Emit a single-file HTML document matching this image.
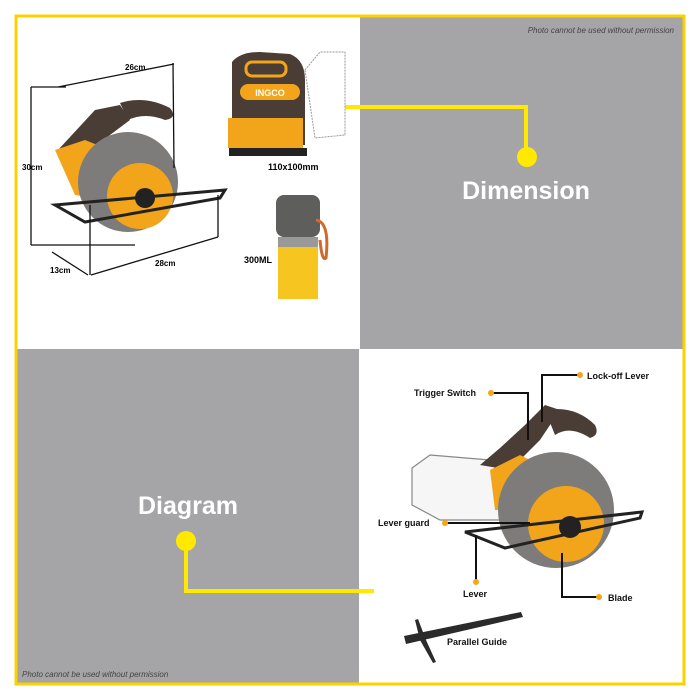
<!DOCTYPE html>
<html><head><meta charset="utf-8"><style>
html,body{margin:0;padding:0;background:#fff}
svg{display:block}
text{font-family:"Liberation Sans",sans-serif}
</style></head><body>
<svg width="700" height="700" viewBox="0 0 700 700" xmlns="http://www.w3.org/2000/svg">
<rect width="700" height="700" fill="#fff"/>
<rect x="360" y="17" width="323" height="332" fill="#a5a4a6"/>
<rect x="17" y="349" width="342" height="334" fill="#a5a4a6"/>
<rect x="16" y="16" width="668" height="668" fill="none" stroke="#fdd000" stroke-width="3"/>
<text x="674" y="33" font-size="8" font-style="italic" fill="#444" text-anchor="end">Photo cannot be used without permission</text>
<text x="22" y="677" font-size="8" font-style="italic" fill="#444">Photo cannot be used without permission</text>

<polyline points="345,107 526,107 526,157" fill="none" stroke="#ffe900" stroke-width="4"/>
<circle cx="527" cy="157" r="10" fill="#ffe900"/>
<text x="526" y="199" font-size="25" font-weight="bold" fill="#fff" text-anchor="middle">Dimension</text>
<polyline points="186,541 186,591 374,591" fill="none" stroke="#ffe900" stroke-width="4"/>
<circle cx="186" cy="541" r="10" fill="#ffe900"/>
<text x="188" y="514" font-size="25" font-weight="bold" fill="#fff" text-anchor="middle">Diagram</text>

<g>
<path d="M58,150 L95,110 L120,105 L130,120 L110,135 L80,160 Z" fill="#4a3d36"/>
<path d="M120,103 Q145,95 170,108 Q178,118 165,120 Q145,112 128,120 Z" fill="#4a3d36"/>
<path d="M55,150 L85,140 L110,150 L105,200 L75,195 Z" fill="#f2a51a"/>
<circle cx="128" cy="182" r="50" fill="#7d7c7b"/>
<circle cx="140" cy="196" r="33" fill="#f2a51a"/>
<circle cx="145" cy="198" r="10" fill="#222"/>
<path d="M55,205 L225,190 L220,198 L85,222 Z" fill="none" stroke="#222" stroke-width="3"/>
<text x="125" y="70" font-size="8" font-weight="bold">26cm</text>
<text x="22" y="170" font-size="8" font-weight="bold">30cm</text>
<text x="50" y="273" font-size="8" font-weight="bold">13cm</text>
<text x="155" y="266" font-size="8" font-weight="bold">28cm</text>
<path d="M58,87 L174,64 M173,63 L174,168 M31,87 L31,245 M31,87 L66,87 M31,245 L135,245 M52,252 L88,275 M91,275 L218,237 M218,237 L218,195 M90,205 L90,275" stroke="#111" stroke-width="1.3" fill="none"/>
</g>

<g>
<path d="M232,62 Q240,52 260,52 L290,54 Q305,60 305,80 L305,145 L232,145 Z" fill="#4a3d36"/>
<rect x="246" y="62" width="40" height="14" rx="6" fill="none" stroke="#f2a51a" stroke-width="3"/>
<rect x="240" y="84" width="60" height="16" rx="8" fill="#f2a51a"/>
<text x="270" y="96" font-size="9" font-weight="bold" fill="#fff" text-anchor="middle">INGCO</text>
<rect x="228" y="118" width="75" height="30" fill="#f2a51a"/>
<rect x="229" y="148" width="78" height="8" fill="#222"/>
<path d="M305,70 L320,52 L345,52 L345,135 L315,138 Z" fill="none" stroke="#999" stroke-width="1" stroke-dasharray="2,1"/>
<text x="268" y="170" font-size="9" font-weight="bold">110x100mm</text>
</g>

<g>
<rect x="276" y="195" width="44" height="42" rx="8" fill="#5e5e5c"/>
<rect x="278" y="237" width="40" height="10" fill="#999"/>
<rect x="278" y="247" width="40" height="52" fill="#f6c520"/>
<path d="M316,220 Q330,222 326,258 Q322,262 320,240" fill="none" stroke="#d06a2c" stroke-width="3"/>
<text x="244" y="263" font-size="9" font-weight="bold">300ML</text>
</g>

<g>
<path d="M412,468 L430,455 L490,460 L510,480 L500,520 L440,520 L412,505 Z" fill="#f6f6f6" stroke="#888" stroke-width="1.2"/>
<path d="M480,465 L500,448 L525,425 L545,405 L560,410 L540,440 L510,470 Z" fill="#4a3d36"/>
<path d="M545,410 Q575,405 595,425 Q600,435 590,438 Q570,425 555,435 Z" fill="#4a3d36"/>
<path d="M490,470 L520,455 L540,465 L530,510 L495,510 Z" fill="#f2a51a"/>
<circle cx="556" cy="510" r="58" fill="#7d7c7b"/>
<circle cx="566" cy="524" r="38" fill="#f2a51a"/>
<circle cx="570" cy="527" r="11" fill="#222"/>
<path d="M465,532 L642,512 L640,518 L505,548 Z" fill="none" stroke="#222" stroke-width="3"/>
</g>

<g stroke="#111" stroke-width="2" fill="none">
<polyline points="579,375 542,375 542,422"/>
<polyline points="491,393 528,393 528,440"/>
<polyline points="445,523 530,523"/>
<polyline points="476,581 476,535"/>
<polyline points="598,597 562,597 562,553"/>
</g>
<g fill="#f7a416">
<circle cx="580" cy="375" r="3"/><circle cx="491" cy="393" r="3"/><circle cx="445" cy="523" r="3"/><circle cx="476" cy="582" r="3"/><circle cx="599" cy="597" r="3"/>
</g>
<g font-size="9" font-weight="bold" fill="#111">
<text x="587" y="379">Lock-off Lever</text>
<text x="414" y="396">Trigger Switch</text>
<text x="378" y="526">Lever guard</text>
<text x="463" y="597">Lever</text>
<text x="608" y="601">Blade</text>
<text x="447" y="645">Parallel Guide</text>
</g>
<path d="M404,636 L521,612 L523,617 L406,644 Z" fill="#2b2b2b"/>
<path d="M415,620 L418,619 L426,640 L436,662 L433,663 L420,640 Z" fill="#2b2b2b"/>
</svg>
</body></html>
